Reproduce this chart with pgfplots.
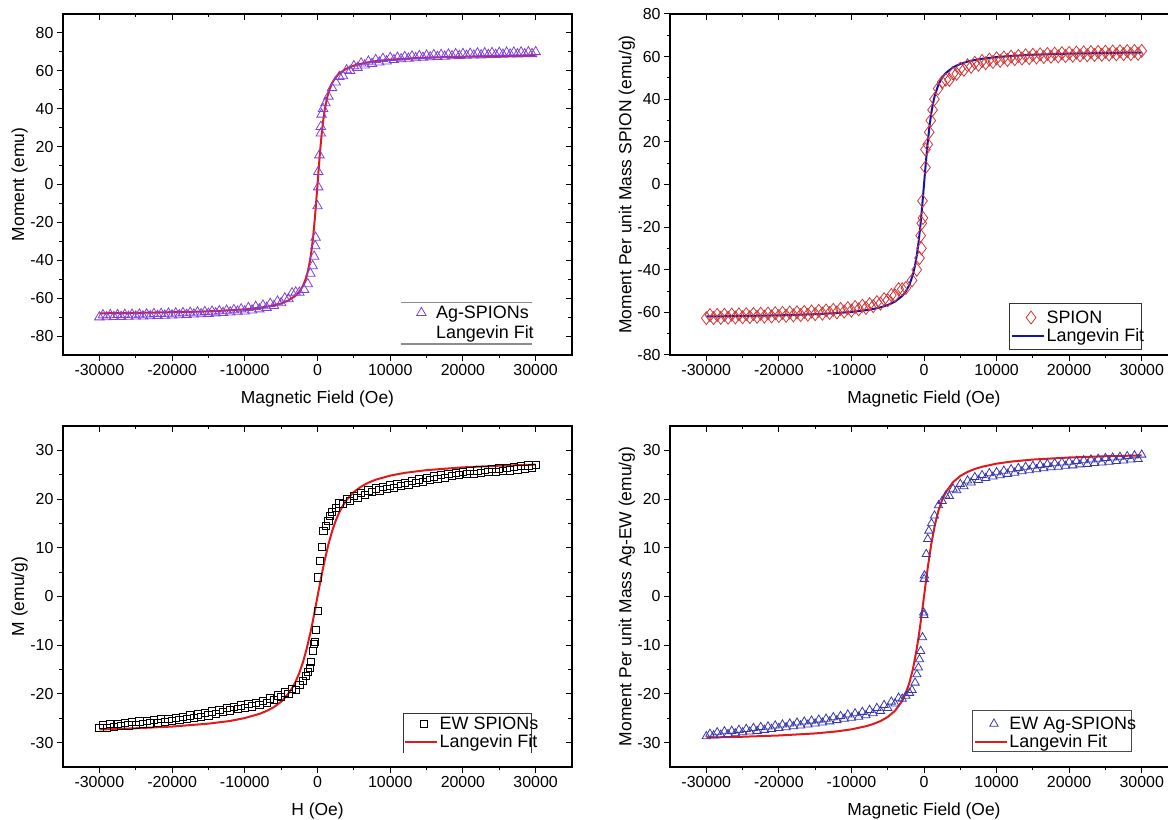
\documentclass[border=0pt]{standalone}
\usepackage{fontspec}
\setmainfont{Liberation Sans}
\usepackage{pgfplots}
\pgfplotsset{compat=1.18}

\definecolor{violetA}{RGB}{128,64,220}
\definecolor{redD}{RGB}{210,55,55}
\definecolor{blueL}{RGB}{20,20,170}
\definecolor{redL}{RGB}{225,25,25}
\definecolor{blueT}{RGB}{55,55,175}

\pgfplotsset{
  panel/.style={
    scale only axis, height=341bp, anchor=south west,
    xmin=-35000, xmax=35000,
    xtick={-30000,-20000,-10000,0,10000,20000,30000},
    minor x tick num=1, minor y tick num=1,
    scaled x ticks=false, scaled y ticks=false,
    /pgf/number format/assume math mode=true,
    /pgf/number format/1000 sep={},
    tick align=outside, xtick pos=left, ytick pos=left,
    major tick length=6bp, minor tick length=3.5bp,
    every tick/.style={black, line width=1bp},
    axis line style={black, line width=1.2bp},
    tick label style={font=\fontsize{16}{18}\selectfont},
    label style={font=\fontsize{17.5}{20}\selectfont},
    xlabel style={at={(axis description cs:0.5,-0.128)}, anchor=center},
    ylabel style={at={(axis description cs:-0.085,0.5)}, anchor=center},
    legend cell align=left,
    legend style={draw=none, fill=none, anchor=north west,
      font=\fontsize{18}{20}\selectfont, inner xsep=1bp, inner ysep=5bp,
      nodes={inner ysep=1.5bp, inner xsep=1.5bp},
      /tikz/column sep=0bp, /tikz/row sep=1bp},
    legend image code/.code={\draw[mark repeat=2, mark phase=2, ##1]
      plot coordinates {(0bp,0bp) (16bp,0bp) (32bp,0bp)};},
  },
  markleg/.style={legend image code/.code={\draw[mark repeat=2, mark phase=2, ##1]
      plot coordinates {(2bp,0bp) (19bp,0bp) (36bp,0bp)};}},
  mirrorticks/.style={panel, xtick pos=right, ytick pos=right,
    tick align=inside, xticklabels={}, yticklabels={}},
}

\begin{document}
\begin{tikzpicture}

% ---- top left: Ag-SPIONs
\begin{axis}[panel, width=509bp, at={(63bp,465bp)},
  ymin=-90, ymax=90, ytick={-80,-60,...,80},
  xlabel={Magnetic Field (Oe)}, ylabel={Moment (emu)},
  legend style={at={(axis description cs:0.664,0.155)}, inner ysep=2bp, /tikz/row sep=3bp}]
\addplot[only marks, markleg, mark=triangle, mark size=5.5bp, violetA, mark options={line width=0.8bp}]
  table[row sep=\\] {
  x y \\
  -30000 -70.0 \\ -29500 -68.95 \\ -29000 -69.9 \\ -28500 -68.85 \\ -28000 -69.8 \\ -27500 -68.8 \\ -27000 -69.75 \\ -26500 -68.7 \\ -26000 -69.7 \\ -25500 -68.65 \\
  -25000 -69.6 \\ -24500 -68.55 \\ -24000 -69.5 \\ -23500 -68.45 \\ -23000 -69.4 \\ -22500 -68.3 \\ -22000 -69.25 \\ -21500 -68.2 \\ -21000 -69.1 \\ -20500 -68.05 \\
  -20000 -69.0 \\ -19500 -67.95 \\ -19000 -68.9 \\ -18500 -67.8 \\ -18000 -68.7 \\ -17500 -67.6 \\ -17000 -68.5 \\ -16500 -67.45 \\ -16000 -68.4 \\ -15500 -67.25 \\
  -15000 -68.15 \\ -14500 -67.0 \\ -14000 -67.9 \\ -13500 -66.8 \\ -13000 -67.7 \\ -12500 -66.5 \\ -12000 -67.4 \\ -11500 -66.2 \\ -11000 -67.0 \\ -10500 -65.8 \\
  -10000 -66.9 \\ -9500 -65.1 \\ -9000 -66.4 \\ -8500 -64.5 \\ -8000 -65.8 \\ -7500 -63.8 \\ -7000 -65.0 \\ -6500 -62.9 \\ -6000 -64.0 \\ -5500 -61.7 \\
  -5000 -62.55 \\ -4500 -60.0 \\ -4000 -60.4 \\ -3500 -57.3 \\ -3000 -56.9 \\
  -2500 -57.0 \\ -1850 -55.5 \\ -1340 -52.5 \\ -980 -47.0 \\ -670 -43.0 \\ -460 -38.0 \\ -310 -32.5 \\ -260 -28.0 \\ 0 -11.4 \\ 100 -1.4 \\
  100 6.7 \\ 260 15.5 \\ 460 27.0 \\ 460 30.5 \\ 560 37.0 \\ 770 40.0 \\ 1100 43.0 \\ 1500 46.5 \\ 2000 51.0 \\ 2500 54.0 \\
  3000 56.9 \\ 3500 57.3 \\ 4000 60.4 \\ 4500 60.0 \\ 5000 62.55 \\ 5500 61.7 \\ 6000 64.0 \\ 6500 62.9 \\ 7000 65.0 \\ 7500 63.8 \\
  8000 65.8 \\ 8500 64.5 \\ 9000 66.4 \\ 9500 65.1 \\ 10000 66.9 \\ 10500 65.8 \\ 11000 67.0 \\ 11500 66.2 \\ 12000 67.4 \\ 12500 66.5 \\
  13000 67.7 \\ 13500 66.8 \\ 14000 67.9 \\ 14500 67.0 \\ 15000 68.15 \\ 15500 67.25 \\ 16000 68.4 \\ 16500 67.45 \\ 17000 68.5 \\ 17500 67.6 \\
  18000 68.7 \\ 18500 67.8 \\ 19000 68.9 \\ 19500 67.95 \\ 20000 69.0 \\ 20500 68.05 \\ 21000 69.1 \\ 21500 68.2 \\ 22000 69.25 \\ 22500 68.3 \\
  23000 69.4 \\ 23500 68.45 \\ 24000 69.5 \\ 24500 68.55 \\ 25000 69.6 \\ 25500 68.65 \\ 26000 69.7 \\ 26500 68.7 \\ 27000 69.75 \\ 27500 68.8 \\
  28000 69.8 \\ 28500 68.85 \\ 29000 69.9 \\ 29500 68.95 \\ 30000 70.0 \\
  };
\addlegendentry{Ag-SPIONs}
\addplot[redL, line width=2bp, forget plot] table[row sep=\\] {
  x y \\
  -30000 -68.0 \\ -25000 -67.8 \\ -20000 -67.4 \\ -16000 -67.1 \\ -13000 -66.6 \\ -10000 -65.9 \\ -8000 -65.1 \\ -6500 -64.2 \\ -5000 -62.8 \\ -4000 -61.2 \\
  -3000 -58.65 \\ -2500 -56.6 \\ -2000 -53.5 \\ -1600 -49.7 \\ -1300 -45.5 \\ -1000 -39.6 \\ -800 -34.2 \\ -600 -27.6 \\ -400 -19.4 \\ -300 -14.9 \\ -200 -10.1 \\ -100 -5.1 \\
  0 0 \\ 100 5.1 \\ 200 10.1 \\ 300 14.9 \\ 400 19.4 \\ 600 27.6 \\ 800 34.2 \\ 1000 39.6 \\ 1300 45.5 \\ 1600 49.7 \\ 2000 53.5 \\ 2500 56.6 \\ 3000 58.65 \\
  4000 61.2 \\ 5000 62.8 \\ 6500 64.2 \\ 8000 65.1 \\ 10000 65.9 \\ 13000 66.6 \\ 16000 67.1 \\ 20000 67.4 \\ 25000 67.8 \\ 30000 68.0 \\
  };
\addlegendimage{draw opacity=0}
\addlegendentry{Langevin Fit}
\draw[black!45, line width=1.2bp] (axis description cs:0.664,0.155) -- (axis description cs:0.921,0.155);
\draw[black!45, line width=1.2bp] (axis description cs:0.664,0.032) -- (axis description cs:0.921,0.032);
\end{axis}
\begin{axis}[mirrorticks, width=509bp, at={(63bp,465bp)},
  ymin=-90, ymax=90, ytick={-80,-60,...,80}]
\end{axis}

% ---- top right: SPION
\begin{axis}[panel, width=508bp, at={(670bp,465bp)},
  ymin=-80, ymax=80, ytick={-80,-60,...,80},
  xlabel={Magnetic Field (Oe)}, ylabel={Moment Per unit Mass SPION (emu/g)},
  legend style={at={(axis description cs:0.669,0.150)}}]
\addplot[only marks, markleg, mark=diamond, mark size=6.5bp, redD, mark options={line width=0.8bp}]
  table[row sep=\\] {
  x y \\
  -30000 -62.7 \\ -29500 -61.3 \\ -29000 -62.65 \\ -28500 -61.2 \\ -28000 -62.6 \\ -27500 -61.15 \\ -27000 -62.5 \\ -26500 -61.05 \\ -26000 -62.4 \\ -25500 -60.95 \\
  -25000 -62.3 \\ -24500 -60.85 \\ -24000 -62.2 \\ -23500 -60.75 \\ -23000 -62.1 \\ -22500 -60.65 \\ -22000 -62.0 \\ -21500 -60.55 \\ -21000 -61.9 \\ -20500 -60.4 \\
  -20000 -61.7 \\ -19500 -60.25 \\ -19000 -61.6 \\ -18500 -60.1 \\ -18000 -61.4 \\ -17500 -59.95 \\ -17000 -61.25 \\ -16500 -59.8 \\ -16000 -61.1 \\ -15500 -59.6 \\
  -15000 -60.85 \\ -14500 -59.3 \\ -14000 -60.6 \\ -13500 -59.1 \\ -13000 -60.3 \\ -12500 -58.8 \\ -12000 -60.0 \\ -11500 -58.4 \\ -11000 -59.6 \\ -10500 -58.0 \\
  -10000 -59.2 \\ -9500 -57.5 \\ -9000 -58.6 \\ -8500 -56.9 \\ -8000 -57.95 \\ -7500 -56.15 \\ -7000 -57.1 \\ -6500 -55.2 \\ -6000 -55.9 \\ -5500 -53.8 \\
  -5000 -54.35 \\ -4500 -51.9 \\ -4000 -52.0 \\ -3500 -49.1 \\ -3000 -49.2 \\
  -2500 -48.5 \\ -1650 -45.0 \\ -1000 -40.0 \\ -620 -34.5 \\ -360 -30.0 \\ -460 -24.0 \\ -310 -18.2 \\ -150 -15.7 \\ -210 -7.7 \\
  200 8.0 \\ 200 16.4 \\ 510 18.8 \\ 720 24.5 \\ 930 30.0 \\ 1180 35.0 \\ 1440 40.0 \\ 1950 45.0 \\ 2500 48.0 \\
  3000 49.2 \\ 3500 49.1 \\ 4000 52.0 \\ 4500 51.9 \\ 5000 54.35 \\ 5500 53.8 \\ 6000 55.9 \\ 6500 55.2 \\ 7000 57.1 \\ 7500 56.15 \\
  8000 57.95 \\ 8500 56.9 \\ 9000 58.6 \\ 9500 57.5 \\ 10000 59.2 \\ 10500 58.0 \\ 11000 59.6 \\ 11500 58.4 \\ 12000 60.0 \\ 12500 58.8 \\
  13000 60.3 \\ 13500 59.1 \\ 14000 60.6 \\ 14500 59.3 \\ 15000 60.85 \\ 15500 59.6 \\ 16000 61.1 \\ 16500 59.8 \\ 17000 61.25 \\ 17500 59.95 \\
  18000 61.4 \\ 18500 60.1 \\ 19000 61.6 \\ 19500 60.25 \\ 20000 61.7 \\ 20500 60.4 \\ 21000 61.9 \\ 21500 60.55 \\ 22000 62.0 \\ 22500 60.65 \\
  23000 62.1 \\ 23500 60.75 \\ 24000 62.2 \\ 24500 60.85 \\ 25000 62.3 \\ 25500 60.95 \\ 26000 62.4 \\ 26500 61.05 \\ 27000 62.5 \\ 27500 61.15 \\
  28000 62.6 \\ 28500 61.2 \\ 29000 62.65 \\ 29500 61.3 \\ 30000 62.7 \\
  };
\addlegendentry{SPION}
\addplot[blueL, line width=2bp] table[row sep=\\] {
  x y \\
  -30000 -61.93 \\ -25000 -61.71 \\ -20000 -61.39 \\ -15000 -60.86 \\ -12000 -60.32 \\ -10000 -59.79 \\ -8000 -58.98 \\ -7000 -58.41 \\ -6000 -57.65 \\ -5000 -56.57 \\
  -4000 -54.97 \\ -3000 -52.29 \\ -2500 -50.16 \\ -2000 -46.99 \\ -1500 -41.93 \\ -1250 -38.24 \\ -1000 -33.42 \\ -750 -27.18 \\ -500 -19.37 \\ -250 -10.13 \\
  0 0 \\ 250 10.13 \\ 500 19.37 \\ 750 27.18 \\ 1000 33.42 \\ 1250 38.24 \\ 1500 41.93 \\ 2000 46.99 \\ 2500 50.16 \\ 3000 52.29 \\
  4000 54.97 \\ 5000 56.57 \\ 6000 57.65 \\ 7000 58.41 \\ 8000 58.98 \\ 10000 59.79 \\ 12000 60.32 \\ 15000 60.86 \\ 20000 61.39 \\ 25000 61.71 \\ 30000 61.93 \\
  };
\addlegendentry{Langevin Fit}
\draw[black!80, line width=1bp] (axis description cs:0.669,0.150) rectangle (axis description cs:0.929,0.015);
\end{axis}
\begin{axis}[mirrorticks, width=508bp, at={(670bp,465bp)},
  ymin=-80, ymax=80, ytick={-80,-60,...,80}]
\end{axis}

% ---- bottom left: EW SPIONs
\begin{axis}[panel, width=509bp, at={(63bp,53bp)},
  ymin=-35, ymax=35, ytick={-30,-20,...,30},
  xlabel={H (Oe)}, ylabel={M (emu/g)},
  legend style={at={(axis description cs:0.668,0.158)}, inner ysep=2bp}]
\addplot[only marks, markleg, mark=square, mark size=3.6bp, black, mark options={line width=0.8bp}]
  table[row sep=\\] {
  x y \\
  -30000 -27.0 \\ -29500 -26.4 \\ -29000 -26.9 \\ -28500 -26.2 \\ -28000 -26.75 \\ -27500 -26.1 \\ -27000 -26.6 \\ -26500 -25.9 \\ -26000 -26.45 \\ -25500 -25.8 \\
  -25000 -26.3 \\ -24500 -25.65 \\ -24000 -26.2 \\ -23500 -25.5 \\ -23000 -26.05 \\ -22500 -25.4 \\ -22000 -25.9 \\ -21500 -25.2 \\ -21000 -25.75 \\ -20500 -25.1 \\
  -20000 -25.6 \\ -19500 -24.9 \\ -19000 -25.4 \\ -18500 -24.7 \\ -18000 -25.15 \\ -17500 -24.4 \\ -17000 -24.9 \\ -16500 -24.2 \\ -16000 -24.65 \\ -15500 -23.9 \\
  -15000 -24.4 \\ -14500 -23.6 \\ -14000 -24.05 \\ -13500 -23.25 \\ -13000 -23.7 \\ -12500 -22.95 \\ -12000 -23.4 \\ -11500 -22.65 \\ -11000 -23.1 \\ -10500 -22.35 \\
  -10000 -22.8 \\ -9500 -22.1 \\ -9000 -22.55 \\ -8500 -21.8 \\ -8000 -22.2 \\ -7500 -21.4 \\ -7000 -21.8 \\ -6500 -20.9 \\ -6000 -21.2 \\ -5500 -20.3 \\
  -5000 -20.6 \\ -4500 -19.7 \\ -4000 -20.0 \\ -3500 -19.0 \\ -3000 -19.1 \\
  -2500 -18.2 \\ -2000 -17.4 \\ -1600 -16.3 \\ -1340 -15.4 \\ -1080 -14.6 \\ -900 -13.4 \\ -670 -11.2 \\ -515 -9.7 \\ -410 -9.3 \\ -205 -6.8 \\ 50 -2.9 \\
  100 3.9 \\ 310 7.3 \\ 565 10.1 \\ 820 13.5 \\ 1130 14.5 \\ 1490 15.6 \\ 1750 16.6 \\ 2000 17.4 \\ 2500 18.2 \\
  3000 19.1 \\ 3500 19.0 \\ 4000 20.0 \\ 4500 19.7 \\ 5000 20.6 \\ 5500 20.3 \\ 6000 21.2 \\ 6500 20.9 \\ 7000 21.8 \\ 7500 21.4 \\
  8000 22.2 \\ 8500 21.8 \\ 9000 22.55 \\ 9500 22.1 \\ 10000 22.8 \\ 10500 22.35 \\ 11000 23.1 \\ 11500 22.65 \\ 12000 23.4 \\ 12500 22.95 \\
  13000 23.7 \\ 13500 23.25 \\ 14000 24.05 \\ 14500 23.6 \\ 15000 24.4 \\ 15500 23.9 \\ 16000 24.65 \\ 16500 24.2 \\ 17000 24.9 \\ 17500 24.4 \\
  18000 25.15 \\ 18500 24.7 \\ 19000 25.4 \\ 19500 24.9 \\ 20000 25.6 \\ 20500 25.1 \\ 21000 25.75 \\ 21500 25.2 \\ 22000 25.9 \\ 22500 25.4 \\
  23000 26.05 \\ 23500 25.5 \\ 24000 26.2 \\ 24500 25.65 \\ 25000 26.3 \\ 25500 25.8 \\ 26000 26.45 \\ 26500 25.9 \\ 27000 26.6 \\ 27500 26.1 \\
  28000 26.75 \\ 28500 26.2 \\ 29000 26.9 \\ 29500 26.4 \\ 30000 27.0 \\
  };
\addlegendentry{EW SPIONs}
\addplot[redL, line width=2bp] table[row sep=\\] {
  x y \\
  -30000 -27.3 \\ -25000 -27.05 \\ -20000 -26.7 \\ -15000 -26.1 \\ -12000 -25.55 \\ -10000 -24.95 \\ -8000 -24.1 \\ -7000 -23.5 \\ -6000 -22.7 \\ -5000 -21.6 \\
  -4000 -19.95 \\ -3500 -18.85 \\ -3000 -17.45 \\ -2500 -15.7 \\ -2000 -13.5 \\ -1500 -10.8 \\ -1000 -7.6 \\ -750 -5.85 \\ -500 -3.95 \\ -250 -2.0 \\
  0 0 \\ 250 1.95 \\ 500 3.87 \\ 750 5.73 \\ 1000 7.49 \\ 1500 10.69 \\ 2000 13.37 \\ 2500 15.55 \\ 3000 17.30 \\ 3500 18.70 \\
  4000 19.81 \\ 5000 21.45 \\ 6000 22.56 \\ 7000 23.37 \\ 8000 23.97 \\ 10000 24.82 \\ 12000 25.38 \\ 15000 25.94 \\ 20000 26.51 \\ 25000 26.85 \\ 30000 27.07 \\
  };
\addlegendentry{Langevin Fit}
\draw[black!80, line width=1bp] (axis description cs:0.668,0.041) -- (axis description cs:0.668,0.158)
  -- (axis description cs:0.921,0.158) -- (axis description cs:0.921,0.041);
\end{axis}
\begin{axis}[mirrorticks, width=509bp, at={(63bp,53bp)},
  ymin=-35, ymax=35, ytick={-30,-20,...,30}]
\end{axis}

% ---- bottom right: EW Ag-SPIONs
\begin{axis}[panel, width=508bp, at={(670bp,53bp)},
  ymin=-35, ymax=35, ytick={-30,-20,...,30},
  xlabel={Magnetic Field (Oe)}, ylabel={Moment Per unit Mass Ag-EW (emu/g)},
  legend style={at={(axis description cs:0.596,0.167)}}]
\addplot[only marks, markleg, mark=triangle, mark size=4.8bp, blueT, mark options={line width=0.8bp}]
  table[row sep=\\] {
  x y \\
  -30000 -28.7 \\ -29500 -28.2 \\ -29000 -28.55 \\ -28500 -27.9 \\ -28000 -28.4 \\ -27500 -27.7 \\ -27000 -28.25 \\ -26500 -27.6 \\ -26000 -28.1 \\ -25500 -27.4 \\
  -25000 -27.9 \\ -24500 -27.2 \\ -24000 -27.75 \\ -23500 -27.0 \\ -23000 -27.6 \\ -22500 -26.8 \\ -22000 -27.4 \\ -21500 -26.7 \\ -21000 -27.2 \\ -20500 -26.5 \\
  -20000 -27.0 \\ -19500 -26.3 \\ -19000 -26.85 \\ -18500 -26.1 \\ -18000 -26.65 \\ -17500 -25.9 \\ -17000 -26.5 \\ -16500 -25.7 \\ -16000 -26.3 \\ -15500 -25.5 \\
  -15000 -26.1 \\ -14500 -25.3 \\ -14000 -25.9 \\ -13500 -25.1 \\ -13000 -25.65 \\ -12500 -24.8 \\ -12000 -25.4 \\ -11500 -24.55 \\ -11000 -25.1 \\ -10500 -24.25 \\
  -10000 -24.9 \\ -9500 -24.0 \\ -9000 -24.7 \\ -8500 -23.7 \\ -8000 -24.4 \\ -7500 -23.3 \\ -7000 -24.0 \\ -6500 -22.9 \\ -6000 -23.5 \\ -5500 -22.3 \\
  -5000 -22.9 \\ -4500 -21.6 \\ -4000 -22.0 \\ -3500 -20.8 \\ -3000 -21.0 \\
  -2500 -20.4 \\ -2000 -19.8 \\ -1650 -19.2 \\ -1230 -17.7 \\ -980 -16.0 \\ -770 -14.6 \\ -620 -12.9 \\ -460 -11.2 \\ -200 -8.4 \\ -10 -3.8 \\ -40 -3.3 \\
  30 3.6 \\ 60 4.3 \\ 310 8.7 \\ 510 11.8 \\ 670 13.5 \\ 1030 15.0 \\ 1440 16.6 \\ 2000 18.7 \\ 2500 19.6 \\
  3000 20.7 \\ 3500 20.6 \\ 4000 22.1 \\ 4500 21.8 \\ 5000 23.1 \\ 5500 22.6 \\ 6000 23.8 \\ 6500 23.4 \\ 7000 24.5 \\ 7500 23.9 \\
  8000 24.9 \\ 8500 24.3 \\ 9000 25.3 \\ 9500 24.6 \\ 10000 25.5 \\ 10500 24.85 \\ 11000 25.8 \\ 11500 25.15 \\ 12000 26.1 \\ 12500 25.4 \\
  13000 26.35 \\ 13500 25.7 \\ 14000 26.6 \\ 14500 25.9 \\ 15000 26.8 \\ 15500 26.1 \\ 16000 27.0 \\ 16500 26.3 \\ 17000 27.2 \\ 17500 26.5 \\
  18000 27.35 \\ 18500 26.6 \\ 19000 27.5 \\ 19500 26.8 \\ 20000 27.65 \\ 20500 26.9 \\ 21000 27.8 \\ 21500 27.1 \\ 22000 27.95 \\ 22500 27.2 \\
  23000 28.1 \\ 23500 27.4 \\ 24000 28.25 \\ 24500 27.5 \\ 25000 28.4 \\ 25500 27.65 \\ 26000 28.5 \\ 26500 27.8 \\ 27000 28.65 \\ 27500 27.9 \\
  28000 28.8 \\ 28500 28.1 \\ 29000 28.95 \\ 29500 28.2 \\ 30000 29.1 \\
  };
\addlegendentry{EW Ag-SPIONs}
\addplot[redL, line width=2bp] table[row sep=\\] {
  x y \\
  -30000 -28.96 \\ -25000 -28.79 \\ -20000 -28.53 \\ -15000 -28.11 \\ -12000 -27.69 \\ -10000 -27.27 \\ -8000 -26.63 \\ -7000 -26.18 \\ -6000 -25.58 \\ -5000 -24.73 \\
  -4000 -23.47 \\ -3000 -21.41 \\ -2500 -19.83 \\ -2000 -17.68 \\ -1500 -14.71 \\ -1000 -10.73 \\ -750 -8.33 \\ -500 -5.71 \\ -250 -2.91 \\
  0 0 \\ 250 2.91 \\ 500 5.71 \\ 750 8.33 \\ 1000 10.73 \\ 1500 14.71 \\ 2000 17.68 \\ 2500 19.83 \\ 3000 21.41 \\
  4000 23.47 \\ 5000 24.73 \\ 6000 25.58 \\ 7000 26.18 \\ 8000 26.63 \\ 10000 27.27 \\ 12000 27.69 \\ 15000 28.11 \\ 20000 28.53 \\ 25000 28.79 \\ 30000 28.96 \\
  };
\addlegendentry{Langevin Fit}
\draw[black!70, line width=1bp] (axis description cs:0.596,0.167) rectangle (axis description cs:0.909,0.044);
\end{axis}
\begin{axis}[mirrorticks, width=508bp, at={(670bp,53bp)},
  ymin=-35, ymax=35, ytick={-30,-20,...,30}]
\end{axis}

\pgfresetboundingbox
\path[use as bounding box] (0bp,0bp) rectangle (1168bp,820bp);
\end{tikzpicture}
\end{document}
